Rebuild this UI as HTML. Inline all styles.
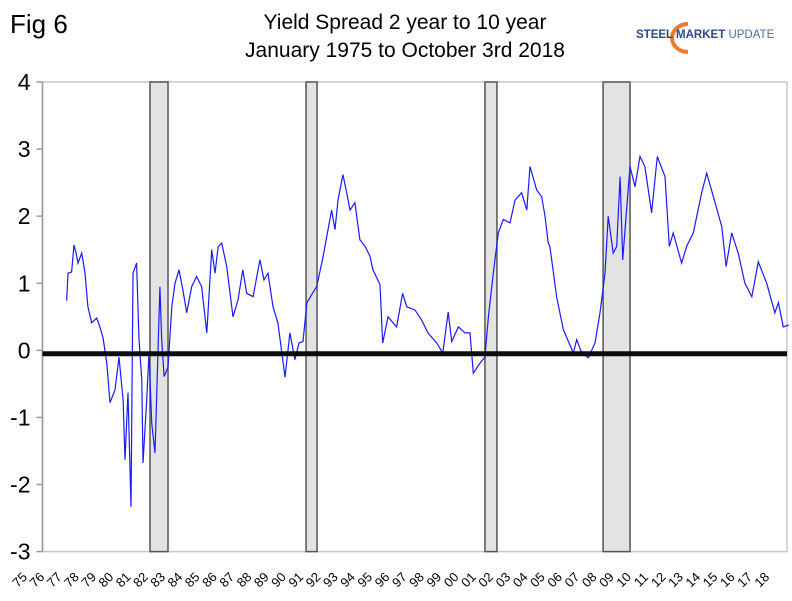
<!DOCTYPE html>
<html><head><meta charset="utf-8"><style>
body{margin:0;background:#fff;}
svg{display:block;font-family:"Liberation Sans",Arial,sans-serif;}
</style></head><body>
<svg id="chart" width="792" height="601" viewBox="0 0 792 601">
<text x="10" y="33" font-size="26" fill="#000">Fig 6</text>
<text x="405" y="29" font-size="21" text-anchor="middle">Yield Spread 2 year to 10 year</text>
<text x="405" y="57" font-size="21" text-anchor="middle">January 1975 to October 3rd 2018</text>
<g>
<path d="M688 24 A16 14 0 1 0 688 52" fill="none" stroke="#f07b2a" stroke-width="4"/>
<text x="636" y="38" font-size="11.5" fill="#2b4a8c"><tspan font-weight="bold">STEEL MARKET</tspan> <tspan fill="#4a6fb0">UPDATE</tspan></text>
</g>
<g id="plot"></g>
</svg>
<script>
const years=[1976.64,1976.72,1976.93,1977.07,1977.19,1977.30,1977.52,1977.71,1977.88,1978.10,1978.39,1978.58,1978.76,1978.98,1979.17,1979.46,1979.69,1979.93,1980.04,1980.22,1980.39,1980.51,1980.72,1980.86,1981.02,1981.09,1981.31,1981.44,1981.60,1981.79,1982.08,1982.18,1982.32,1982.55,1982.77,1982.96,1983.19,1983.42,1983.64,1983.93,1984.22,1984.51,1984.81,1985.10,1985.29,1985.47,1985.68,1985.97,1986.34,1986.63,1986.91,1987.14,1987.51,1987.91,1988.15,1988.38,1988.67,1988.96,1989.37,1989.66,1989.95,1990.19,1990.42,1990.65,1991.00,1991.22,1991.59,1992.09,1992.29,1992.46,1992.75,1992.97,1993.16,1993.45,1993.74,1994.04,1994.33,1994.50,1994.91,1995.07,1995.38,1995.88,1996.23,1996.47,1996.95,1997.34,1997.71,1998.22,1998.57,1998.89,1999.09,1999.48,1999.87,2000.16,2000.35,2000.74,2001.03,2001.23,2001.52,2001.81,2002.10,2002.49,2002.78,2003.17,2003.47,2003.66,2004.05,2004.34,2004.53,2004.72,2004.82,2005.21,2005.60,2006.18,2006.38,2006.67,2007.06,2007.45,2007.74,2008.03,2008.22,2008.51,2008.71,2008.91,2009.06,2009.26,2009.49,2009.78,2010.07,2010.36,2010.75,2011.08,2011.53,2011.78,2012.01,2012.50,2012.79,2013.18,2013.67,2013.96,2014.35,2014.84,2015.09,2015.42,2015.80,2016.19,2016.59,2016.97,2017.46,2017.94,2018.14,2018.43,2018.75];
const spread=[0.74,1.15,1.17,1.57,1.45,1.30,1.45,1.15,0.65,0.41,0.48,0.35,0.19,-0.19,-0.78,-0.59,-0.10,-0.74,-1.63,-0.63,-2.33,1.15,1.30,0.16,-0.44,-1.68,-0.74,-0.04,-1.08,-1.53,0.95,0.16,-0.39,-0.25,0.65,1.0,1.2,0.9,0.56,0.95,1.10,0.95,0.26,1.50,1.15,1.54,1.60,1.25,0.5,0.75,1.2,0.85,0.8,1.35,1.05,1.15,0.65,0.41,-0.4,0.26,-0.14,0.11,0.13,0.71,0.86,0.95,1.39,2.09,1.8,2.24,2.62,2.35,2.09,2.2,1.65,1.55,1.4,1.2,0.98,0.11,0.5,0.35,0.85,0.65,0.6,0.45,0.26,0.11,-0.04,0.57,0.13,0.35,0.26,0.26,-0.34,-0.19,-0.1,0.5,1.15,1.75,1.95,1.9,2.24,2.35,2.09,2.74,2.39,2.29,2.0,1.6,1.55,0.8,0.31,-0.04,0.16,-0.04,-0.11,0.11,0.56,1.15,2.0,1.45,1.55,2.59,1.35,2.0,2.74,2.44,2.89,2.74,2.05,2.89,2.59,1.55,1.75,1.3,1.55,1.75,2.35,2.64,2.29,1.84,1.25,1.75,1.45,1.0,0.8,1.32,1.0,0.56,0.71,0.35,0.38];
const recStart=[1981.5,1990.6,2001.03,2007.92];
const recEnd=[1982.55,1991.24,2001.73,2009.49];
const yTicks=[4,3,2,1,0,-1,-2,-3];
const xLabels=["75","76","77","78","79","80","81","82","83","84","85","86","87","88","89","90","91","92","93","94","95","96","97","98","99","00","01","02","03","04","05","06","07","08","09","10","11","12","13","14","15","16","17","18"];
const zeroRef=-0.05;

const NS="http://www.w3.org/2000/svg";
const L=42.5,R=787,T=82,B=551.6;
const yMin=-3,yMax=4;
const X=t=>150+(t-1981.5)*17.15;
const Y=v=>B-(v-yMin)/(yMax-yMin)*(B-T);
const g=document.getElementById('plot');
function mk(tag,at){const e=document.createElementNS(NS,tag);for(const k in at)e.setAttribute(k,at[k]);g.appendChild(e);return e;}

let fr=mk('rect',{x:L,y:T,width:R-L,height:B-T,fill:'none',stroke:'#c8c8c8','stroke-width':1.5});


recStart.forEach((s,i)=>{
  const r=mk('rect',{x:X(s),y:T,width:X(recEnd[i])-X(s),height:B-T,fill:'#e3e3e3',stroke:'#555','stroke-width':1.5});
  
  
});
const ax=mk('line',{x1:L,y1:T,x2:L,y2:B,stroke:'#999','stroke-width':1.5});


yTicks.forEach(v=>{
  const tk=mk('line',{x1:L-6,y1:Y(v),x2:L,y2:Y(v),stroke:'#999','stroke-width':1.5});
  
  
  const tx=mk('text',{x:L-12,y:Y(v)+8,'font-size':23,'text-anchor':'end'});
  tx.textContent=v;
  
  
});
xLabels.forEach((lb,i)=>{
  const cx=20+i*17.26,cy=580;
  const tx=mk('text',{x:cx,y:cy+4,'font-size':13,'text-anchor':'middle',transform:`rotate(-45 ${cx} ${cy})`});
  tx.textContent=lb;
  
  
});
let d='';
years.forEach((t,i)=>{d+=(i?'L':'M')+X(t).toFixed(1)+' '+Y(spread[i]).toFixed(1)+' ';});
const ln=mk('path',{d:d,fill:'none',stroke:'#1a1aff','stroke-width':1.2});


const z=mk('line',{x1:L,y1:Y(zeroRef),x2:R,y2:Y(zeroRef),stroke:'#000','stroke-width':5,'stroke-opacity':0.95});


</script>
</body></html>
